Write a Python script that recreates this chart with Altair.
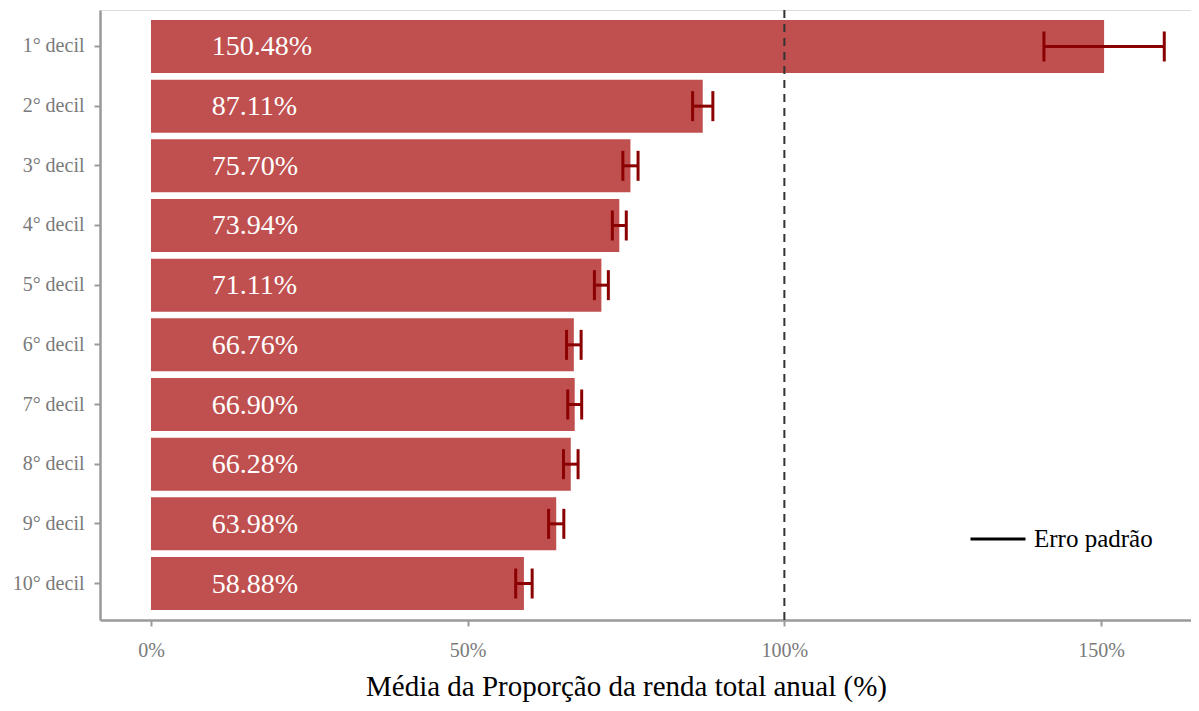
import altair as alt
import pandas as pd

deciles = ["1° decil", "2° decil", "3° decil", "4° decil", "5° decil",
           "6° decil", "7° decil", "8° decil", "9° decil", "10° decil"]
means = [150.48, 87.11, 75.70, 73.94, 71.11, 66.76, 66.90, 66.28, 63.98, 58.88]
errors = [9.5, 1.6, 1.2, 1.1, 1.1, 1.15, 1.1, 1.15, 1.2, 1.3]
x_ticks = [0, 50, 100, 150]
reference_line = 100
label_anchor = 9.6
legend_label = "Erro padrão"

df = pd.DataFrame({"decil": deciles, "media": means, "erro": errors})
df["lo"] = df["media"] - df["erro"]
df["hi"] = df["media"] + df["erro"]
df["label"] = df["media"].map(lambda v: f"{v:.2f}%")

FONT = "Liberation Serif"
BAR = "#C0504F"
ERR = "#8B0000"
GREY = "#9a9a9a"

x_scale = alt.Scale(domain=[-8.05, 164.2], nice=False, zero=False)
y_scale = alt.Scale(domain=deciles, paddingInner=0.112, paddingOuter=0.1675)

base = alt.Chart(df)

y_enc = alt.Y("decil:N", sort=deciles, scale=y_scale, title=None,
              axis=alt.Axis(domainColor=GREY, domainWidth=2.5, tickColor=GREY,
                            tickWidth=2, tickSize=6, labelColor="#7a7a7a",
                            labelFont=FONT, labelFontSize=20, labelPadding=10))

bars = base.mark_bar(color=BAR).encode(
    x=alt.X("media:Q", scale=x_scale,
            title="Média da Proporção da renda total anual (%)",
            axis=alt.Axis(values=x_ticks, labelExpr="datum.value + '%'",
                          domainColor=GREY, domainWidth=2.5, tickColor=GREY,
                          tickWidth=2, tickSize=6, labelColor="#7a7a7a",
                          labelFont=FONT, labelFontSize=20, labelPadding=14,
                          titleFont=FONT, titleFontSize=29, titleFontWeight="normal",
                          titleColor="#000000", titleX=526, titleY=75,
                          titleBaseline="alphabetic", titleAlign="center", grid=False)),
    x2=alt.datum(0),
    y=y_enc,
)

labels = base.mark_text(align="left", baseline="middle", color="white",
                        font=FONT, fontSize=28, dy=1).encode(
    x=alt.datum(label_anchor),
    y=alt.Y("decil:N", sort=deciles, scale=y_scale),
    text="label:N",
)

vline = alt.Chart(pd.DataFrame({"ref": [reference_line]})).mark_rule(
    color="#333333", strokeDash=[8, 6], strokeWidth=2).encode(x=alt.X("ref:Q", scale=x_scale))

err_rule = base.mark_rule(strokeWidth=3, color=ERR, opacity=1).encode(
    x=alt.X("lo:Q", scale=x_scale),
    x2="hi:Q",
    y=alt.Y("decil:N", sort=deciles, scale=y_scale),
)
tick_lo = base.mark_tick(size=30, thickness=3, color=ERR, opacity=1).encode(
    x=alt.X("lo:Q", scale=x_scale), y=alt.Y("decil:N", sort=deciles, scale=y_scale))
tick_hi = base.mark_tick(size=30, thickness=3, color=ERR, opacity=1).encode(
    x=alt.X("hi:Q", scale=x_scale), y=alt.Y("decil:N", sort=deciles, scale=y_scale))

# zero-length rule: draws nothing, only provides the legend entry
legend_layer = alt.Chart(pd.DataFrame({"legenda": [legend_label], "decil": [deciles[0]]})).mark_rule(
    strokeWidth=3, strokeCap="butt", opacity=1).encode(
    x=alt.datum(0), x2=alt.datum(0),
    y=alt.Y("decil:N", sort=deciles, scale=y_scale),
    color=alt.Color("legenda:N", scale=alt.Scale(range=["#000000"]),
                    legend=alt.Legend(title=None, orient="none", legendX=869, legendY=500,
                                      symbolType="stroke", symbolSize=3025,
                                      symbolStrokeWidth=3, symbolOpacity=1,
                                      labelFont=FONT, labelFontSize=25, labelColor="#000000",
                                      labelOffset=7)),
)

chart = alt.layer(bars, labels, vline, err_rule, tick_lo, tick_hi, legend_layer).properties(
    width=1091, height=610,
    autosize=alt.AutoSizeParams(type="none"),
    padding={"left": 92, "top": 2, "right": 0, "bottom": 83},
).configure_view(stroke=None).configure(background="white")

chart.save("out.html", embed_options={"renderer": "svg", "actions": False})
